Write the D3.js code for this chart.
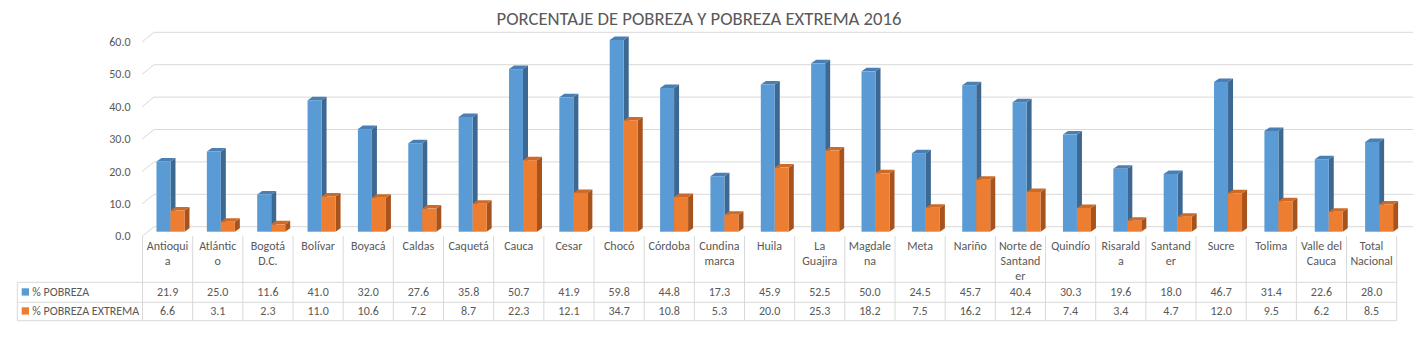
<!DOCTYPE html>
<html>
<head>
<meta charset="utf-8">
<script src="https://cdn.jsdelivr.net/npm/d3@7"></script>
<style>
  html, body { margin: 0; padding: 0; background: #fff; }
  svg { display: block; }
  text { font-family: Carlito, "Liberation Sans", Arial, sans-serif; fill: #595959; }
</style>
</head>
<body>
<svg id="chart" width="1426" height="344"></svg>
<script>
const title = "PORCENTAJE DE POBREZA Y POBREZA EXTREMA 2016";
const categories = ["Antioquia","Atlántico","Bogotá D.C.","Bolívar","Boyacá","Caldas","Caquetá","Cauca","Cesar","Chocó","Córdoba","Cundinamarca","Huila","La Guajira","Magdalena","Meta","Nariño","Norte de Santander","Quindío","Risaralda","Santander","Sucre","Tolima","Valle del Cauca","Total Nacional"];
const categoryLines = [["Antioqui","a"],["Atlántic","o"],["Bogotá","D.C."],["Bolívar"],["Boyacá"],["Caldas"],["Caquetá"],["Cauca"],["Cesar"],["Chocó"],["Córdoba"],["Cundina","marca"],["Huila"],["La","Guajira"],["Magdale","na"],["Meta"],["Nariño"],["Norte de","Santand","er"],["Quindío"],["Risarald","a"],["Santand","er"],["Sucre"],["Tolima"],["Valle del","Cauca"],["Total","Nacional"]];
const seriesNames = ["% POBREZA", "% POBREZA EXTREMA"];
const pobreza = [21.9,25.0,11.6,41.0,32.0,27.6,35.8,50.7,41.9,59.8,44.8,17.3,45.9,52.5,50.0,24.5,45.7,40.4,30.3,19.6,18.0,46.7,31.4,22.6,28.0];
const extrema = [6.6,3.1,2.3,11.0,10.6,7.2,8.7,22.3,12.1,34.7,10.8,5.3,20.0,25.3,18.2,7.5,16.2,12.4,7.4,3.4,4.7,12.0,9.5,6.2,8.5];
const yTicks = [0,10,20,30,40,50,60];

const svg = d3.select("#chart");
const gridColor = "#d9d9d9";
const colors = [
  {face: "#5b9bd5", top: "#4a7fb3", side: "#3d6892"},
  {face: "#ed7d31", top: "#cc6a28", side: "#a9531c"}
];

// scales
const yBack = d3.scaleLinear().domain([0, 60]).range([226.7, 32.3]);
const yBar = d3.scaleLinear().domain([0, 60]).range([231.7, 39.3]);
const xBar = d3.scaleBand().domain(categories).range([145.3, 1404.3]);
const xTable = d3.scaleBand().domain(categories).range([142.5, 1396.7]);
const depthDX = 12, depthDY = 9.7;

// title
svg.append("text").attr("x", 699).attr("y", 25).attr("text-anchor", "middle")
  .style("font-size", "18.67px").text(title);

// gridlines (back wall + left diagonal)
const grid = svg.append("g");
yTicks.forEach(t => {
  const yb = yBack(t);
  grid.append("line").attr("x1", 154).attr("x2", 1413).attr("y1", yb).attr("y2", yb)
    .attr("stroke", gridColor).attr("stroke-width", 1);
  grid.append("line").attr("x1", 154 - depthDX).attr("y1", yb + depthDY).attr("x2", 154).attr("y2", yb)
    .attr("stroke", gridColor).attr("stroke-width", 1);
  grid.append("text").attr("x", 130.5).attr("y", yb + depthDY + 4).attr("text-anchor", "end")
    .style("font-size", "12px").text(d3.format(".1f")(t));
});

// bars
const bw = 14, dx = 5, dy = 3.5;
function drawBar(g, x0, v, c) {
  const yt = yBar(v), yb = yBar(0);
  g.append("polygon").attr("points", [[x0 + bw, yt], [x0 + bw + dx, yt - dy], [x0 + bw + dx, yb - dy], [x0 + bw, yb]].join(" "))
    .attr("fill", c.side);
  g.append("polygon").attr("points", [[x0, yt], [x0 + dx, yt - dy], [x0 + bw + dx, yt - dy], [x0 + bw, yt]].join(" "))
    .attr("fill", c.top);
  g.append("rect").attr("x", x0).attr("y", yt).attr("width", bw).attr("height", yb - yt).attr("fill", c.face);
}
const bars = svg.append("g");
categories.forEach((cat, i) => {
  const cx = xBar(cat) + xBar.bandwidth() / 2;
  drawBar(bars, cx - bw, pobreza[i], colors[0]);
  drawBar(bars, cx, extrema[i], colors[1]);
});

// data table
const tbl = svg.append("g");
const tTop = 236, rowTop = 282.3, rowMid = 302.3, rowBot = 320.7;
const xs = categories.map(c => xTable(c)).concat([xTable.range()[1]]);
xs.forEach(x => {
  tbl.append("line").attr("x1", x).attr("x2", x).attr("y1", tTop).attr("y2", rowBot)
    .attr("stroke", gridColor).attr("stroke-width", 1);
});
[rowTop, rowMid, rowBot].forEach(y => {
  tbl.append("line").attr("x1", 17.3).attr("x2", xTable.range()[1]).attr("y1", y).attr("y2", y)
    .attr("stroke", gridColor).attr("stroke-width", 1);
});
tbl.append("line").attr("x1", 17.3).attr("x2", 17.3).attr("y1", rowTop).attr("y2", rowBot)
  .attr("stroke", gridColor).attr("stroke-width", 1);

categories.forEach((cat, i) => {
  const cx = xTable(cat) + xTable.bandwidth() / 2;
  categoryLines[i].forEach((ln, j) => {
    tbl.append("text").attr("x", cx).attr("y", 250 + j * 15).attr("text-anchor", "middle")
      .style("font-size", "12px").text(ln);
  });
  tbl.append("text").attr("x", cx).attr("y", 296).attr("text-anchor", "middle")
    .style("font-size", "12px").text(d3.format(".1f")(pobreza[i]));
  tbl.append("text").attr("x", cx).attr("y", 315).attr("text-anchor", "middle")
    .style("font-size", "12px").text(d3.format(".1f")(extrema[i]));
});

// legend keys in table
[[296, 0], [315, 1]].forEach(([by, k]) => {
  tbl.append("rect").attr("x", 21.7).attr("y", by - 7.7).attr("width", 7.3).attr("height", 7.3).attr("fill", colors[k].face);
  tbl.append("text").attr("x", 32.3).attr("y", by).style("font-size", "12px").text(seriesNames[k]);
});
</script>
</body>
</html>
